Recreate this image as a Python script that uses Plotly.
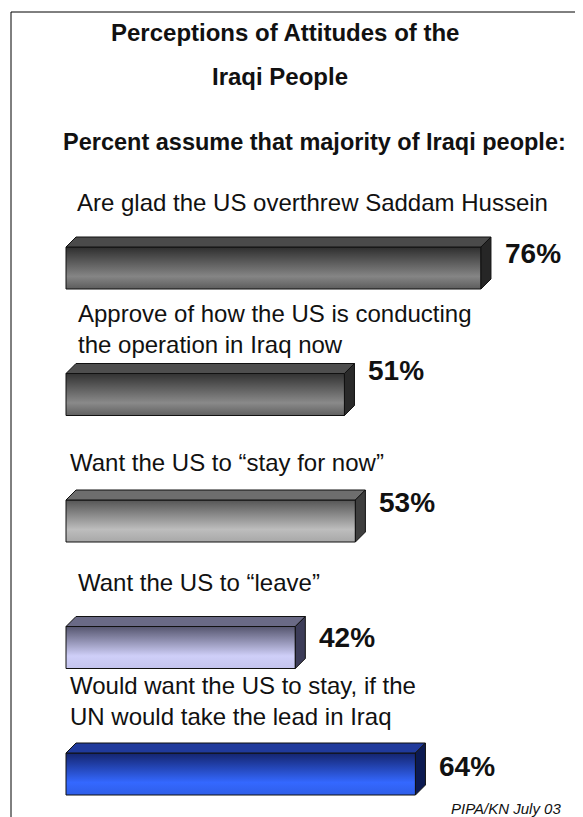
import plotly.graph_objects as go

# ---------------- data ----------------
categories = [
    "Are glad the US overthrew Saddam Hussein",
    "Approve of how the US is conducting<br>the operation in Iraq now",
    "Want the US to \u201cstay for now\u201d",
    "Want the US to \u201cleave\u201d",
    "Would want the US to stay, if the<br>UN would take the lead in Iraq",
]
values = [76, 51, 53, 42, 64]

title_lines = ["Perceptions of Attitudes of the", "Iraqi People"]
subtitle = "Percent assume that majority of Iraqi people:"
source = "PIPA/KN July 03"

# ---------------- style ----------------
PAGE_W, PAGE_H = 583, 817
M = 8                       # default page body margin of the html page
W, H = PAGE_W - M, PAGE_H - M
PX_PER_UNIT = 5.46          # horizontal pixels per percent
ORIGIN_PX = 66 - M          # pixel x of 0%
ROW_PX = 126.5              # vertical pixels between bars
FIRST_PX = 268 - M          # pixel y of first bar centre
BAR_HALF = 21 / ROW_PX
DX = 10 / PX_PER_UNIT
DY = 10 / ROW_PX

# (top, highlight, bottom) of front face, top face colour, side colour
front_cols = [
    ("#5c5c5c", "#858585", "#2e2e2e"),
    ("#606060", "#8a8a8a", "#323232"),
    ("#a8a8a8", "#bdbdbd", "#555555"),
    ("#c4c4ee", "#cfcff8", "#55556e"),
    ("#2f5ee8", "#3468ff", "#14246e"),
]
top_cols = ["#4a4a4a", "#4e4e4e", "#6e6e6e", "#6a6a86", "#203a9c"]
side_cols = ["#262626", "#2a2a2a", "#3e3e3e", "#3c3c58", "#0c1a52"]

label_x_px = [77, 78, 70, 78, 70]        # left edge of category text (page px)
label_shift = [66, 66, 59, 65, 73]       # px above bar centre
pct_shift = [15, 24, 19, 10, 8]          # px above bar centre

FONT = "Liberation Sans, Arial, sans-serif"


def px_x(p):
    return (p - M) / W


def px_y(p):
    return 1 - (p - M) / H


fig = go.Figure()

for i, v in enumerate(values):
    t, m, b = front_cols[i]
    y0, y1 = i - BAR_HALF, i + BAR_HALF
    # front face
    fig.add_trace(go.Scatter(
        x=[0, v, v, 0, 0], y=[y0, y0, y1, y1, y0],
        mode="lines", fill="toself",
        fillgradient=dict(type="vertical",
                          colorscale=[[0, t], [0.3, m], [1, b]]),
        line=dict(color="#111111", width=1),
        hoverinfo="skip", showlegend=False))
    # top face
    fig.add_trace(go.Scatter(
        x=[0, v, v + DX, DX, 0], y=[y0, y0, y0 - DY, y0 - DY, y0],
        mode="lines", fill="toself", fillcolor=top_cols[i],
        line=dict(color="#111111", width=1),
        hoverinfo="skip", showlegend=False))
    # side face
    fig.add_trace(go.Scatter(
        x=[v, v + DX, v + DX, v, v], y=[y0, y0 - DY, y1 - DY, y1, y0],
        mode="lines", fill="toself", fillcolor=side_cols[i],
        line=dict(color="#111111", width=1),
        hoverinfo="skip", showlegend=False))
    # value label
    fig.add_annotation(x=v, y=i, xref="x", yref="y", text=f"{v}%",
                       showarrow=False, xanchor="left", yanchor="middle",
                       xshift=DX * PX_PER_UNIT + 12, yshift=pct_shift[i],
                       font=dict(family=FONT, size=28, color="#111111",
                                 weight="bold"))
    # category label
    fig.add_annotation(x=(label_x_px[i] - M - ORIGIN_PX) / PX_PER_UNIT - 0.4,
                       y=i, xref="x", yref="y",
                       text=categories[i], align="left",
                       showarrow=False, xanchor="left", yanchor="middle",
                       yshift=label_shift[i],
                       font=dict(family=FONT, size=24, color="#111111"))

# title and subtitle
fig.add_annotation(x=px_x(285), y=px_y(33), xref="paper", yref="paper",
                   text=title_lines[0], showarrow=False,
                   xanchor="center", yanchor="middle",
                   font=dict(family=FONT, size=24, color="#111111",
                             weight="bold"))
fig.add_annotation(x=px_x(280), y=px_y(77), xref="paper", yref="paper",
                   text=title_lines[1], showarrow=False,
                   xanchor="center", yanchor="middle",
                   font=dict(family=FONT, size=24, color="#111111",
                             weight="bold"))
fig.add_annotation(x=px_x(314), y=px_y(142), xref="paper", yref="paper",
                   text=subtitle, showarrow=False,
                   xanchor="center", yanchor="middle",
                   font=dict(family=FONT, size=23.5, color="#111111",
                             weight="bold"))
fig.add_annotation(x=px_x(563), y=px_y(808), xref="paper", yref="paper",
                   text=f"<i>{source}</i>", showarrow=False,
                   xanchor="right", yanchor="middle",
                   font=dict(family=FONT, size=15, color="#111111"))

# frame lines (top and left)
fig.add_shape(type="line", xref="paper", yref="paper",
              x0=px_x(11), x1=1, y0=px_y(12), y1=px_y(12),
              line=dict(color="#000000", width=1))
fig.add_shape(type="line", xref="paper", yref="paper",
              x0=px_x(11), x1=px_x(11), y0=0, y1=px_y(12),
              line=dict(color="#000000", width=1))

fig.update_layout(
    width=W, height=H,
    margin=dict(l=0, r=0, t=0, b=0),
    paper_bgcolor="white", plot_bgcolor="white",
    xaxis=dict(range=[-ORIGIN_PX / PX_PER_UNIT, (W - ORIGIN_PX) / PX_PER_UNIT],
               visible=False, fixedrange=True),
    yaxis=dict(range=[(H - FIRST_PX) / ROW_PX, -FIRST_PX / ROW_PX],
               visible=False, fixedrange=True),
    showlegend=False,
)

fig.write_html("out.html")
